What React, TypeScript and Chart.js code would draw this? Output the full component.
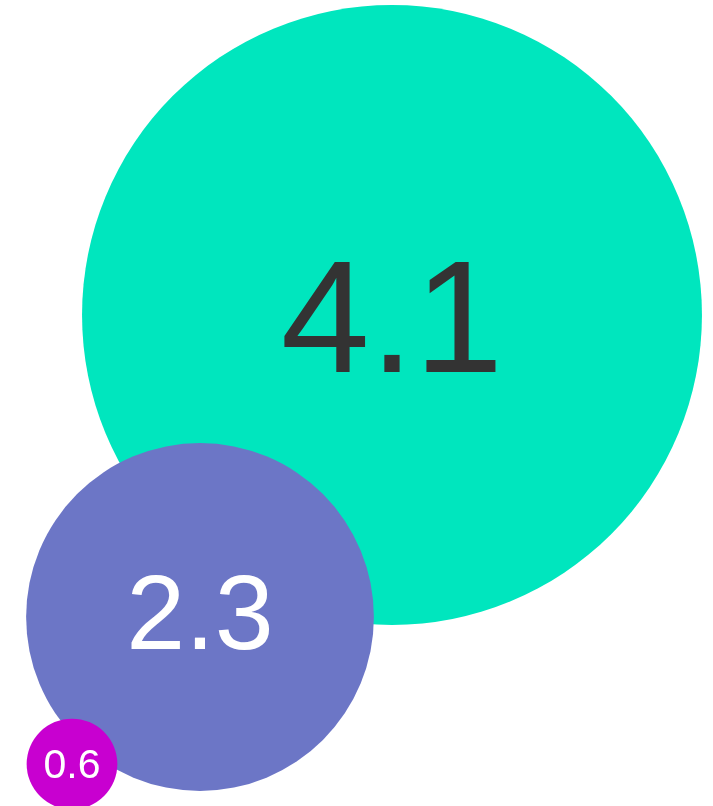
import React, { useEffect, useRef } from "react";
import { Chart, registerables } from "chart.js";

Chart.register(...registerables);

// Data
const labels = ["A", "B", "C"];
const values = [4.1, 2.3, 0.6];
const posX = [392, 200, 72];
const posY = [315, 617, 764];

// Styles
const colors = ["#00E6BE", "#6C76C6", "#C800D0"];
const textColors = ["#333333", "#FFFFFF", "#FFFFFF"];
const fontSizes = [160, 106, 41];
const labelShiftY = [0, -6, -1];
const radiusPerUnit = 75.6;
const W = 713;
const H = 806;
const FONT = '"Liberation Sans", Arial, sans-serif';

const labelPlugin = {
  id: "bubbleLabels",
  afterDatasetsDraw(chart: any) {
    const ctx = chart.ctx;
    const meta = chart.getDatasetMeta(0);
    meta.data.forEach((el: any, i: number) => {
      const fs = fontSizes[i];
      ctx.save();
      ctx.font = `${fs}px ${FONT}`;
      ctx.fillStyle = textColors[i];
      ctx.textAlign = "center";
      ctx.textBaseline = "alphabetic";
      ctx.fillText(values[i].toFixed(1), el.x, el.y + labelShiftY[i] + (fs * 0.716) / 2);
      ctx.restore();
    });
  },
};

export default function App() {
  const ref = useRef<HTMLCanvasElement>(null);
  useEffect(() => {
    let chart: any = null;
    let cancelled = false;
    const make = () => {
      if (cancelled || !ref.current) return;
      chart = new Chart(ref.current, {
        type: "bubble",
        data: {
          labels,
          datasets: [
            {
              data: values.map((v, i) => ({ x: posX[i], y: posY[i], r: v * radiusPerUnit })),
              backgroundColor: colors,
              borderWidth: 0,
              hoverRadius: 0,
              clip: false as any,
            } as any,
          ],
        },
        options: {
          animation: false,
          responsive: false,
          maintainAspectRatio: false,
          layout: { padding: 0, autoPadding: false } as any,
          plugins: { legend: { display: false }, tooltip: { enabled: false } },
          events: [],
          scales: {
            x: { type: "linear", min: 0, max: W, display: false },
            y: { type: "linear", min: 0, max: H, reverse: true, display: false },
          },
        },
        plugins: [labelPlugin],
      });
    };
    const fonts: any = (document as any).fonts;
    if (fonts && fonts.load) {
      fonts.load(`160px ${FONT}`).then(make, make);
    } else {
      make();
    }
    return () => {
      cancelled = true;
      if (chart) chart.destroy();
    };
  }, []);
  return (
    <canvas
      ref={ref}
      width={W}
      height={H}
      style={{ position: "fixed", left: 0, top: 0, width: W, height: H }}
    />
  );
}
